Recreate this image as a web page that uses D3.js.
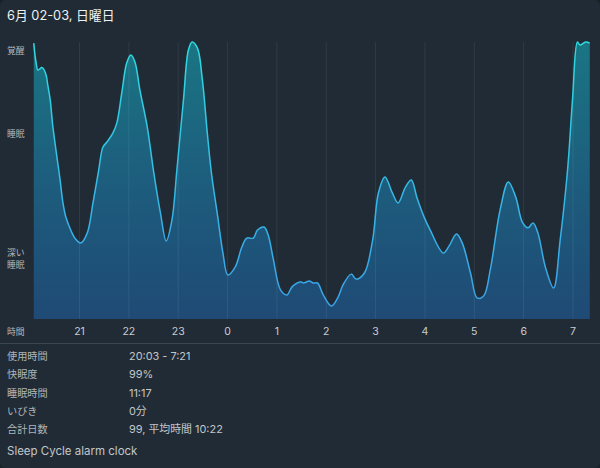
<!DOCTYPE html>
<html><head><meta charset="utf-8">
<script src="https://cdn.jsdelivr.net/npm/d3@7/dist/d3.min.js"></script>
<style>html,body{margin:0;padding:0;background:#1a2229;overflow:hidden}svg{display:block}</style>
</head><body><svg id="c" width="600" height="468"></svg>
<script>
// minutes after 20:00
const minutes=[5,6.5,7.7,10,12.5,14.4,16,20,22,25,28,32,37,40.5,44,51,55,62,70,77,84,89,94,101,106,112,118,123,128,134,143,151,159,166,173,179,187,193,197.5,204,210,216,221,228,235,241,250,258,264,272,277,285,290,296,305,313,319,329,333,340,345,350,357,367,375,381,391,397,407,417,424,432,441,448,457,464,471,480,487,503,510,519,526,536,544,552,560,572,582,591,599,606,612,618,627,637,645,654,660,666,669,676,681];
const depth=[99.6,95.3,92.8,89.9,90.3,90.8,90.6,88.1,84.5,79.1,70,61,50.2,41.9,36.8,31.4,29.2,27.4,31,41.9,53.8,62,63.9,67,70.8,81.6,92.4,95.3,92.8,82.7,69.3,52.7,38.3,28.2,35.7,53.8,79.1,97.1,100,97.8,86.3,67.1,52.7,38.3,23.8,15.9,18.8,26,29.2,29.2,32.1,33.2,30.3,22,10.5,8.7,11.6,13.4,13,13.7,13,13,8.7,4.7,7.9,12.3,16.2,14.4,16.6,28.5,45.5,51.3,45.5,41.9,47.7,50.2,43.7,36.5,32.1,23.8,26.4,30.7,27.4,16.6,7.6,8.3,17.7,39.4,49.5,44,35,32.9,34.7,31,18.8,11.2,28.5,53.8,79.1,100,98.9,100,99.6];
const hourTicks=[60,120,180,240,300,360,420,480,540,600,660];
const hourLabels=["21","22","23","0","1","2","3","4","5","6","7"];
const stateLabels=[{t:"覚醒",v:97},{t:"睡眠",v:67},{t:"深い",v:24},{t:"睡眠",v:19.7}];
const infoLabels=["使用時間","快眠度","睡眠時間","いびき","合計日数"];
const infoValues=["20:03 - 7:21","99%","11:17","0分","99, 平均時間 10:22"];
const titleText="6月 02-03, 日曜日";
const footerText="Sleep Cycle alarm clock";

const font='"Inter","Noto Sans CJK JP",sans-serif';
const svg=d3.select("#c");
const x=d3.scaleLinear().domain([60,660]).range([79,572.5]);
const y=d3.scaleLinear().domain([0,100]).range([319,42]);
const data=minutes.map((m,i)=>[m,depth[i]]);

svg.append("rect").attr("width",600).attr("height",468).attr("rx",6).attr("fill","#202b35");

const defs=svg.append("defs");
const gf=defs.append("linearGradient").attr("id","gf").attr("gradientUnits","userSpaceOnUse").attr("x1",0).attr("x2",0).attr("y1",y(100)).attr("y2",y(0));
gf.append("stop").attr("offset",0).attr("stop-color","#1a7583");
gf.append("stop").attr("offset",.5).attr("stop-color","#1d5d7d");
gf.append("stop").attr("offset",1).attr("stop-color","#1f4a75");
const gl=defs.append("linearGradient").attr("id","gl").attr("gradientUnits","userSpaceOnUse").attr("x1",0).attr("x2",0).attr("y1",y(100)).attr("y2",y(0));
gl.append("stop").attr("offset",0).attr("stop-color","#2ddbe0");
gl.append("stop").attr("offset",.6).attr("stop-color","#36b5e6");
gl.append("stop").attr("offset",1).attr("stop-color","#3a9fe8");

const curve=d3.curveCatmullRom.alpha(0.5);
const area=d3.area().x(d=>x(d[0])).y0(y(0)).y1(d=>y(d[1])).curve(curve);
const line=d3.line().x(d=>x(d[0])).y(d=>y(d[1])).curve(curve);
svg.append("path").datum(data).attr("d",area).attr("fill","url(#gf)");

const axis=d3.axisBottom(x).tickValues(hourTicks).tickFormat((d,i)=>hourLabels[i]).tickSize(-277).tickPadding(6);
const ax=svg.append("g").attr("transform","translate(0,319)").call(axis);
ax.select(".domain").remove();
ax.selectAll("line").attr("stroke","#ffffff").attr("stroke-opacity",.075);
ax.selectAll("text").attr("font-family",font).attr("font-size",10.5).attr("fill","#c9ced2").attr("dy",0).attr("y",16);

svg.append("path").datum(data).attr("d",line).attr("fill","none").attr("stroke","url(#gl)").attr("stroke-width",1.5);

function txt(s,px,py,size,fill){return svg.append("text").attr("x",px).attr("y",py).attr("font-family",font).attr("font-size",size).attr("fill",fill).text(s);}
txt(titleText,7,20,12.8,"#eef1f3");
stateLabels.forEach(d=>txt(d.t,7,y(d.v)+3.5,8.8,"#b4babf"));
txt("時間",7,334.5,8.8,"#b4babf");

svg.append("line").attr("x1",0).attr("x2",600).attr("y1",343.5).attr("y2",343.5).attr("stroke","#3a454e");

const rows=d3.scalePoint().domain(infoLabels).range([360,433]);
infoLabels.forEach((l,i)=>{txt(l,7,rows(l),10.2,"#aeb4b9");txt(infoValues[i],129,rows(l),10.9,"#c2c7cb");});
txt(footerText,7,455,11.5,"#c2c7cb");
</script></body></html>
